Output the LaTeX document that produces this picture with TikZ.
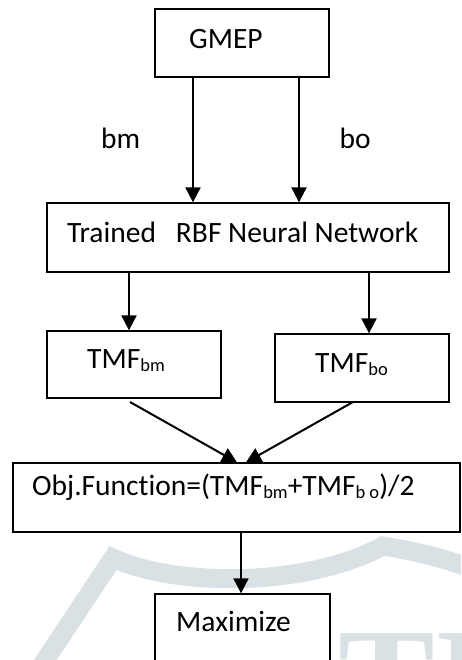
\documentclass[tikz,border=0pt]{standalone}
\usepackage{fontspec}
\setmainfont[Ligatures={NoCommon}]{Carlito}
\newfontfamily\wmfont{Liberation Serif}
\usetikzlibrary{arrows.meta}
\definecolor{wm}{HTML}{DAE1E5}
\newcommand{\sbt}[1]{\raisebox{-3pt}{\fontsize{18.5}{18.5}\selectfont #1}}
\begin{document}
\begin{tikzpicture}[x=1pt,y=-1pt,
  box/.style={draw, line width=1.3pt, rectangle, inner sep=0pt},
  txt/.style={inner sep=0pt, anchor=base west, font=\fontsize{29.5}{31}\selectfont},
  arr/.style={line width=2pt, -{Triangle[width=15pt,length=15pt]}}]
\useasboundingbox (0,0) rectangle (461,660);
\begin{scope}
\clip (0,0) rectangle (461,660);
\draw[wm, line width=19pt, line join=miter] (42,665) -- (113,558) .. controls (170,585) and (300,590) .. (383,546) .. controls (420,552) and (450,560) .. (475,570);
\node[wm, inner sep=0pt, anchor=north west, font=\wmfont\bfseries\fontsize{145}{145}\selectfont] (wmtxt) at (338,633) {TI};
\end{scope}
% boxes
\node[box, minimum width=174pt, minimum height=68pt] (gmep) at (242,43) {};
\node[box, minimum width=402pt, minimum height=69pt] (rbf) at (248,237.5) {};
\node[box, minimum width=174pt, minimum height=67pt] (tbm) at (134,364.5) {};
\node[box, minimum width=174pt, minimum height=68pt] (tbo) at (362,368) {};
\node[box, minimum width=447pt, minimum height=69pt] (obj) at (236.5,497.5) {};
\node[box, minimum width=175pt, minimum height=76pt] (maxb) at (242.5,632) {};
% texts
\node[txt] (tg) at (189,48.3) {GMEP};
\node[txt] (tr) at (67,242.7) {Trained\hspace{20pt}RBF Neural Network};
\node[txt] (tb1) at (87,368.5) {TMF\sbt{bm}};
\node[txt] (tb2) at (315,372.5) {TMF\sbt{bo}};
\node[txt] (to) at (32,495) {Obj.Function=(TMF\sbt{bm}+TMF\sbt{b o})/2};
\node[txt] (tm) at (176,631.5) {Maximize};
\node[txt] (lbm) at (101,148.3) {bm};
\node[txt] (lbo) at (339.5,148.3) {bo};
% connectors
\coordinate (xa) at (193,0);
\coordinate (xb) at (299,0);
\coordinate (xc) at (129,0);
\coordinate (xd) at (369,0);
\coordinate (xe) at (241,0);
\coordinate (xf) at (237,0);
\coordinate (xg) at (246,0);
\coordinate (s1) at (130,402);
\coordinate (s2) at (353,402);
\draw[arr] (gmep.south -| xa) -- (rbf.north -| xa);
\draw[arr] (gmep.south -| xb) -- (rbf.north -| xb);
\draw[arr] (rbf.south -| xc) -- (tbm.north -| xc);
\draw[arr] (rbf.south -| xd) -- (tbo.north -| xd);
\draw[arr] (s1) -- (obj.north -| xf);
\draw[arr] (s2) -- (obj.north -| xg);
\draw[arr] (obj.south -| xe) -- (maxb.north -| xe);
\end{tikzpicture}
\end{document}
